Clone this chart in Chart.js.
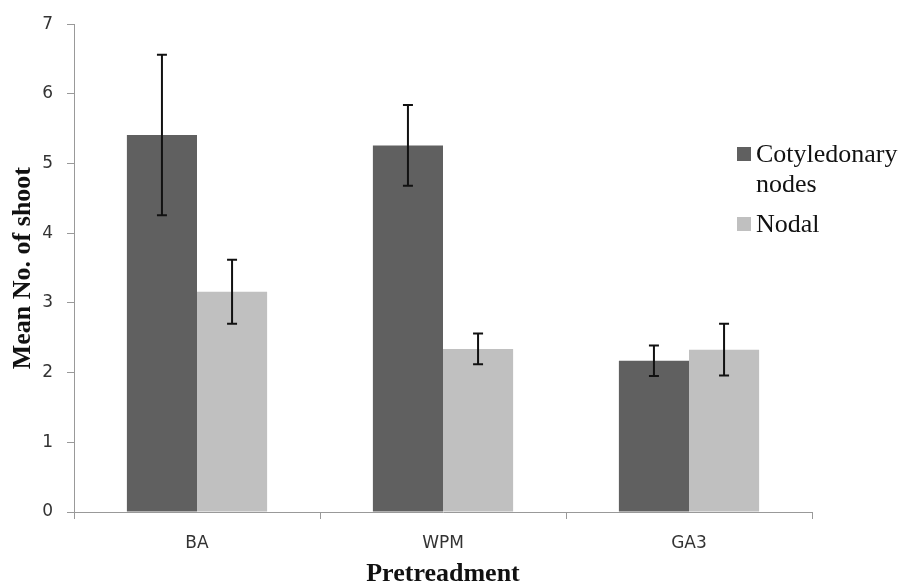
<!DOCTYPE html>
<html>
<head>
<meta charset="utf-8">
<script src="https://cdn.jsdelivr.net/npm/chart.js@4.4.1/dist/chart.umd.min.js"></script>
<style>
  html, body { margin: 0; padding: 0; background: #fff; }
  #wrap { width: 904px; height: 588px; }
</style>
</head>
<body>
<div id="wrap"><canvas id="chart"></canvas></div>
<script>
// values
const categories = ['BA', 'WPM', 'GA3'];
const cotyledonary = [5.41, 5.26, 2.17];
const cotyledonaryErr = [1.15, 0.58, 0.22];
const nodal = [3.16, 2.34, 2.33];
const nodalErr = [0.46, 0.22, 0.37];
const yTicks = [0, 1, 2, 3, 4, 5, 6, 7];

// error bars, drawn through the y scale
const errorBars = {
  id: 'errorBars',
  afterDatasetsDraw(chart) {
    const ctx = chart.ctx;
    const y = chart.scales.y;
    ctx.save();
    ctx.strokeStyle = '#111';
    ctx.lineWidth = 2;
    chart.data.datasets.forEach((ds, di) => {
      const meta = chart.getDatasetMeta(di);
      meta.data.forEach((bar, i) => {
        const v = ds.data[i], e = ds.errors[i];
        const top = y.getPixelForValue(v + e);
        const bot = y.getPixelForValue(v - e);
        ctx.beginPath();
        ctx.moveTo(bar.x, top); ctx.lineTo(bar.x, bot);
        ctx.moveTo(bar.x - 5, top); ctx.lineTo(bar.x + 5, top);
        ctx.moveTo(bar.x - 5, bot); ctx.lineTo(bar.x + 5, bot);
        ctx.stroke();
      });
    });
    ctx.restore();
  }
};

// legend on the right, first label wraps to two lines
const sideLegend = {
  id: 'sideLegend',
  afterDraw(chart) {
    const ctx = chart.ctx;
    const x = chart.chartArea.right - 75;
    const items = [
      { lines: ['Cotyledonary', 'nodes'], y: 162 },
      { lines: ['Nodal'], y: 232 }
    ];
    ctx.save();
    ctx.font = '26px "Liberation Serif", serif';
    ctx.textBaseline = 'alphabetic';
    items.forEach((it, i) => {
      ctx.fillStyle = chart.data.datasets[i].backgroundColor;
      ctx.fillRect(x, it.y - 15, 14, 14);
      ctx.fillStyle = '#111';
      it.lines.forEach((t, k) => ctx.fillText(t, x + 19, it.y + k * 30));
    });
    ctx.restore();
  }
};

new Chart(document.getElementById('chart'), {
  type: 'bar',
  data: {
    labels: categories,
    datasets: [
      { label: 'Cotyledonary nodes', data: cotyledonary, errors: cotyledonaryErr, backgroundColor: '#606060' },
      { label: 'Nodal', data: nodal, errors: nodalErr, backgroundColor: '#c0c0c0' }
    ]
  },
  options: {
    responsive: true,
    maintainAspectRatio: false,
    animation: false,
    devicePixelRatio: 1,
    layout: { padding: { top: 20, right: 92, left: 0, bottom: 0 } },
    datasets: { bar: { categoryPercentage: 0.57, barPercentage: 1.0 } },
    plugins: { legend: { display: false }, tooltip: { enabled: false } },
    scales: {
      x: {
        grid: { display: true, drawOnChartArea: false, offset: true, tickLength: 7, color: '#999' },
        border: { color: '#999' },
        ticks: { color: '#333', font: { family: 'DejaVu Sans', size: 17 }, padding: 14 },
        title: {
          display: true, text: 'Pretreadment', color: '#111',
          font: { family: 'Liberation Serif', size: 26, weight: 'bold' },
          padding: { top: 2, bottom: -2 }
        },
        afterFit(scale) { scale.height = 76; }
      },
      y: {
        min: 0, max: 7,
        afterBuildTicks(scale) { scale.ticks = yTicks.map(v => ({ value: v })); },
        grid: { display: true, drawOnChartArea: false, tickLength: 7, color: '#999' },
        border: { color: '#999' },
        ticks: { color: '#333', font: { family: 'DejaVu Sans', size: 17 }, padding: 14 },
        title: {
          display: true, text: 'Mean No. of shoot', color: '#111',
          font: { family: 'Liberation Serif', size: 26, weight: 'bold' },
          padding: { top: 8, bottom: 0 }
        },
        afterFit(scale) { scale.width = 74; }
      }
    }
  },
  plugins: [errorBars, sideLegend]
});
</script>
</body>
</html>
